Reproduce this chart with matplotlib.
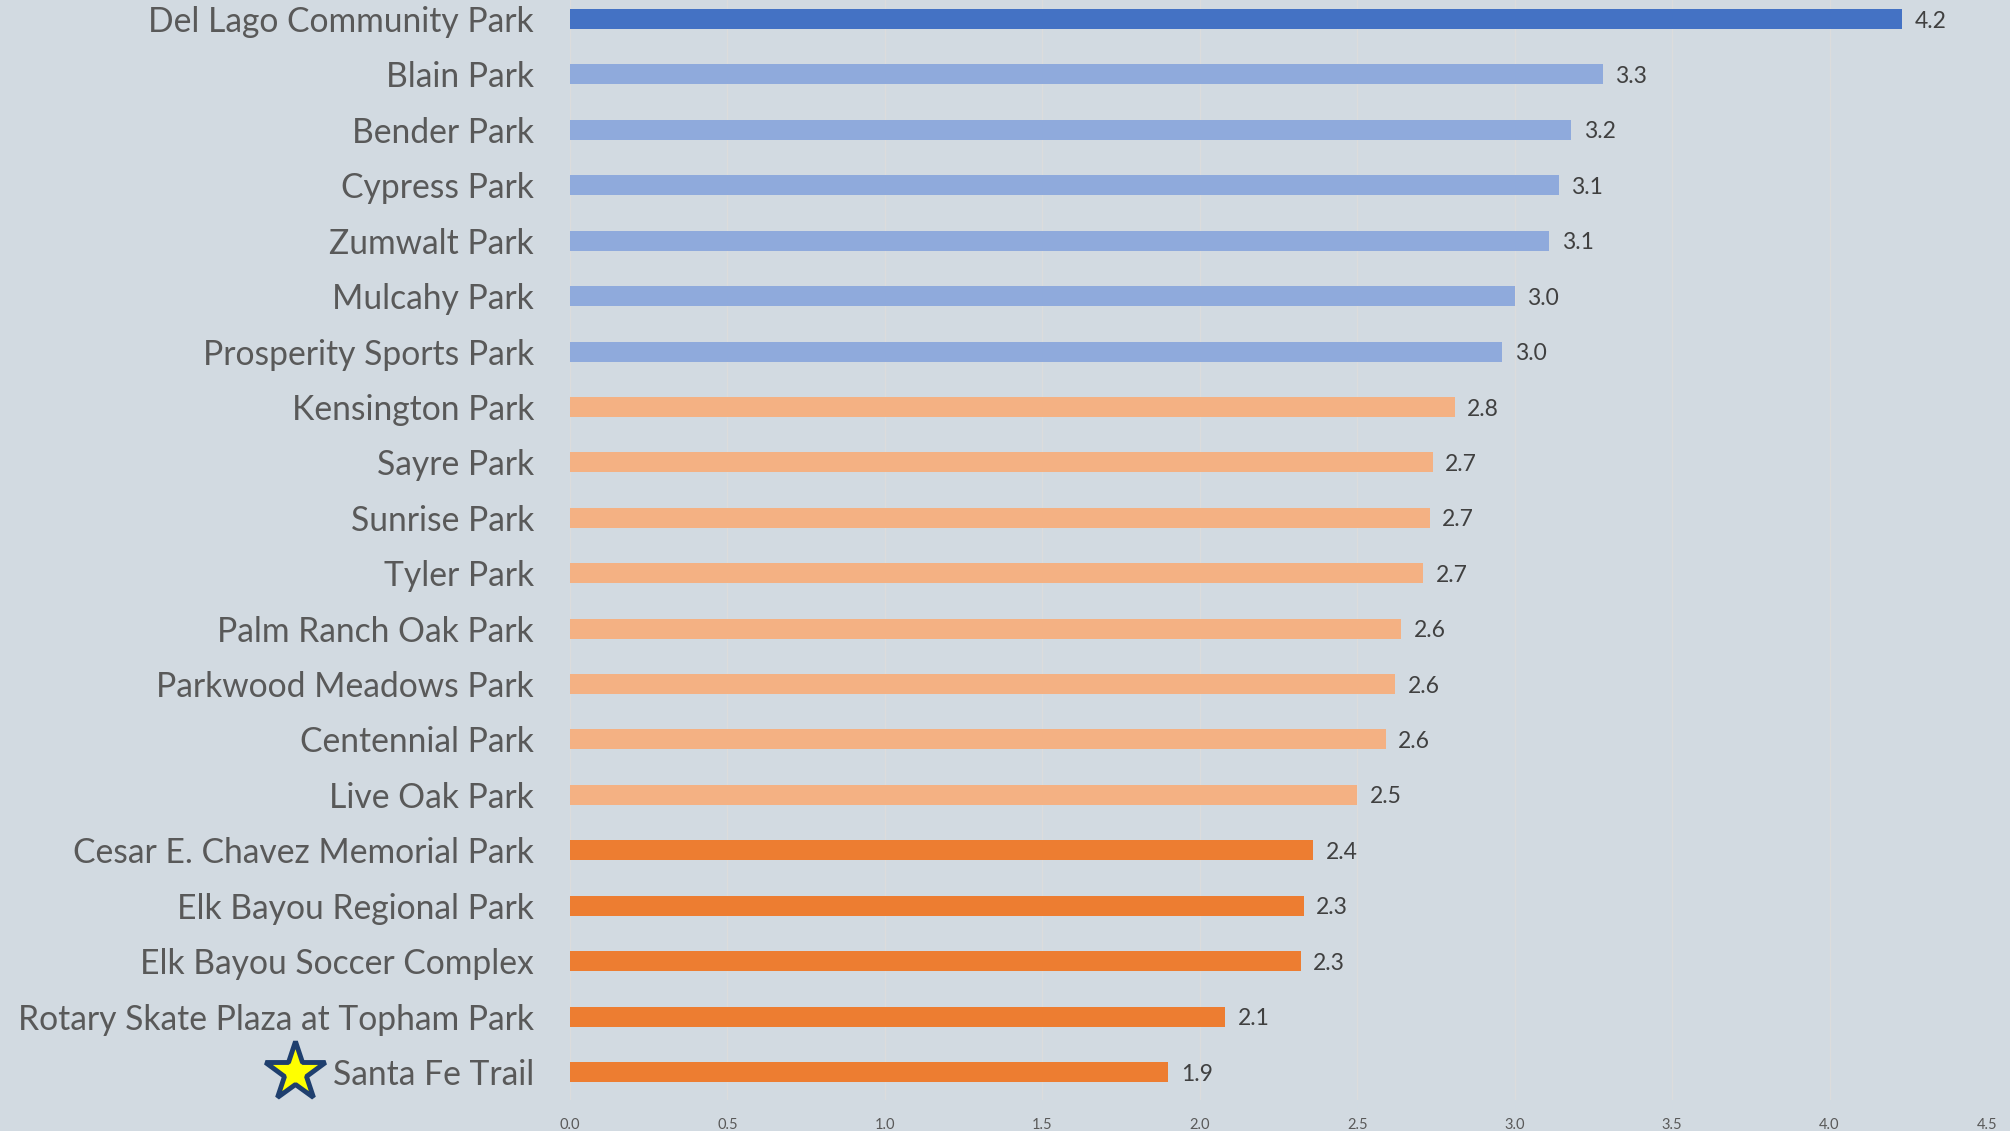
import matplotlib
matplotlib.use("Agg")
import matplotlib.pyplot as plt
from matplotlib.transforms import blended_transform_factory

parks = [
    "Del Lago Community Park", "Blain Park", "Bender Park", "Cypress Park",
    "Zumwalt Park", "Mulcahy Park", "Prosperity Sports Park", "Kensington Park",
    "Sayre Park", "Sunrise Park", "Tyler Park", "Palm Ranch Oak Park",
    "Parkwood Meadows Park", "Centennial Park", "Live Oak Park",
    "Cesar E. Chavez Memorial Park", "Elk Bayou Regional Park",
    "Elk Bayou Soccer Complex", "Rotary Skate Plaza at Topham Park",
    "Santa Fe Trail",
]
scores = [4.23, 3.28, 3.18, 3.14, 3.11, 3.00, 2.96, 2.81, 2.74, 2.73, 2.71,
          2.64, 2.62, 2.59, 2.50, 2.36, 2.33, 2.32, 2.08, 1.90]
tiers = ["top"] + ["high"] * 6 + ["mid"] * 8 + ["low"] * 5
highlight = "Santa Fe Trail"
xticks = [0.0, 0.5, 1.0, 1.5, 2.0, 2.5, 3.0, 3.5, 4.0, 4.5]

tier_colors = {"top": "#4472C4", "high": "#8FAADC", "mid": "#F4B183", "low": "#ED7D31"}
bg = "#D2DAE1"
FONT = ["Lato", "DejaVu Sans"]
plt.rcParams["font.family"] = FONT

W, H = 2010, 1131
fig = plt.figure(figsize=(W / 100, H / 100), dpi=100, facecolor=bg)
pitch = (1072 - 19) / 19
top_px = 19 - pitch / 2
bot_px = 1072 + pitch / 2
ax = fig.add_axes([570 / W, (H - bot_px) / H, (1987 - 570) / W, (bot_px - top_px) / H])
ax.set_facecolor(bg)

ypos = list(range(len(parks)))
ax.barh(ypos, scores, height=0.36, color=[tier_colors[t] for t in tiers], zorder=3)
ax.set_ylim(len(parks) - 0.5, -0.5)
ax.set_xlim(0, 4.5)

for y, v in zip(ypos, scores):
    ax.annotate(f"{v:.1f}", xy=(v, y), xytext=(9, -1.5), textcoords="offset points",
                va="center", ha="left", fontsize=16.5, color="#404040", zorder=4)

ax.set_yticks(ypos)
ax.set_yticklabels(parks, fontsize=24.2, color="#595959")
ax.set_xticks(xticks)
ax.set_xticklabels([f"{t:.1f}" for t in xticks], fontsize=10.5, color="#595959")
ax.tick_params(axis="y", length=0, pad=26)
ax.tick_params(axis="x", length=0, pad=13.5)

ax.grid(axis="x", color="#DCDCDC", linewidth=1, zorder=0)
ax.grid(axis="y", visible=False)
for s in ax.spines.values():
    s.set_visible(False)

idx = parks.index(highlight)
tr = blended_transform_factory(fig.transFigure, ax.transData)
ax.plot([295 / W], [idx], marker="*", markersize=45, markerfacecolor="#FFFF00",
        markeredgecolor="#1F3F6E", markeredgewidth=3.5, transform=tr, clip_on=False, zorder=5)

fig.savefig("out.png", dpi=100, facecolor=bg)
